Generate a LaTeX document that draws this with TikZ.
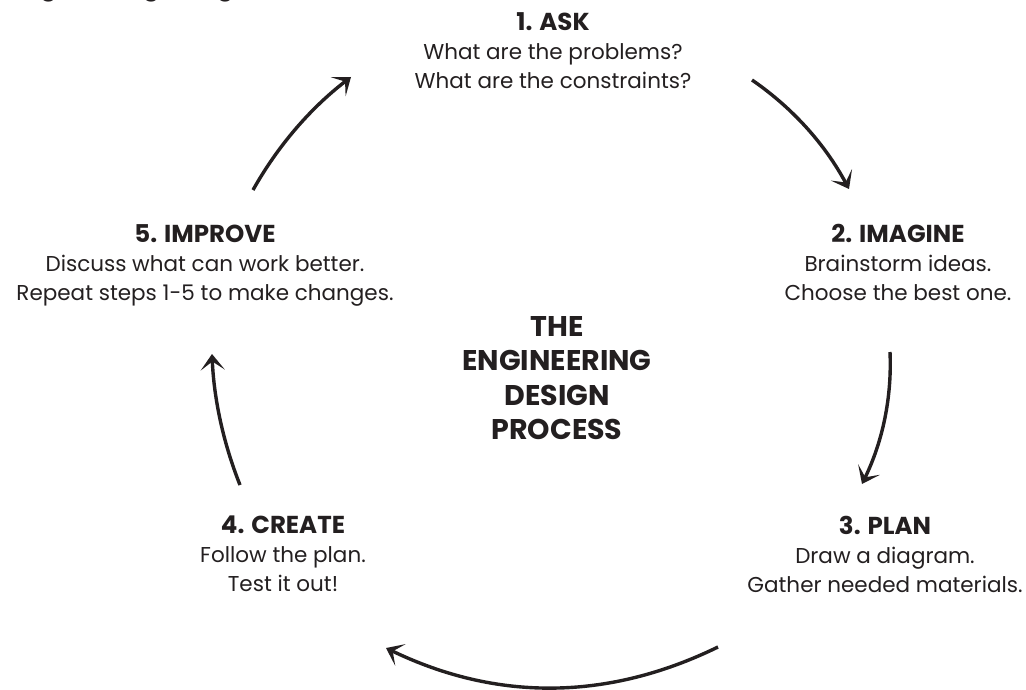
\documentclass[tikz,border=0pt]{standalone}
\usepackage{fontspec}
\setmainfont{Poppins}
\usetikzlibrary{arrows.meta}
\definecolor{ink}{HTML}{231F20}
\newcommand{\steptitle}[1]{{\fontsize{24.5}{29}\selectfont\bfseries #1}}
\tikzset{
  blocktext/.style={anchor=north, align=center, inner sep=0pt, text=ink,
    font=\fontsize{21.5}{29}\selectfont},
  centertext/.style={anchor=north, align=center, inner sep=0pt, text=ink,
    font=\fontsize{28.5}{34.5}\selectfont\bfseries},
  cyclearrow/.style={draw=ink, line width=3.4pt,
    -{Stealth[length=16pt, width=24pt, inset=8.5pt]}}
}
\begin{document}
\begin{tikzpicture}[x=1pt,y=-1pt]
\useasboundingbox (0,0) rectangle (1026,690);
% heading cut off at the very top edge (only descenders show)
\begin{scope}
\clip (0,0) rectangle (1026,690);
\node[anchor=base west, inner sep=0pt, text=ink, font=\fontsize{24}{28}\selectfont\bfseries] (head) at (11,-4) {Engineering Design};
\end{scope}
\node[blocktext] (ask) at (553,12) {\steptitle{1. ASK}\\What are the problems?\\What are the constraints?};
\node[blocktext] (imagine) at (898,224) {\steptitle{2. IMAGINE}\\Brainstorm ideas.\\Choose the best one.};
\node[blocktext] (plan) at (885,516) {\steptitle{3. PLAN}\\Draw a diagram.\\Gather needed materials.};
\node[blocktext] (create) at (283,516) {\steptitle{4. CREATE}\\Follow the plan.\\Test it out!};
\node[blocktext] (improve) at (205,224) {\steptitle{5. IMPROVE}\\Discuss what can work better.\\Repeat steps 1-5 to make changes.};
\node[centertext] (title) at (557,316) {THE\\ENGINEERING\\DESIGN\\PROCESS};
% arrow end points
\coordinate (a1s) at (752,80);  \coordinate (a1e) at (849,189);
\coordinate (a2s) at (890,352); \coordinate (a2e) at (862,484);
\coordinate (a3s) at (718,647); \coordinate (a3e) at (386,648);
\coordinate (a4s) at (240,485); \coordinate (a4e) at (212,354);
\coordinate (a5s) at (253,190); \coordinate (a5e) at (351,77);
\draw[cyclearrow] (a1s) .. controls (792.7,108) and (825,144.3) .. (a1e);
\draw[cyclearrow] (a2s) .. controls (892,397.3) and (882.7,441.3) .. (a2e);
\draw[cyclearrow] (a3s) .. controls (607.3,701) and (496.7,701.3) .. (a3e);
\draw[cyclearrow] (a4s) .. controls (223.3,443) and (214,399.3) .. (a4e);
\draw[cyclearrow] (a5s) .. controls (277.7,146) and (310.3,108.3) .. (a5e);
\end{tikzpicture}
\end{document}
